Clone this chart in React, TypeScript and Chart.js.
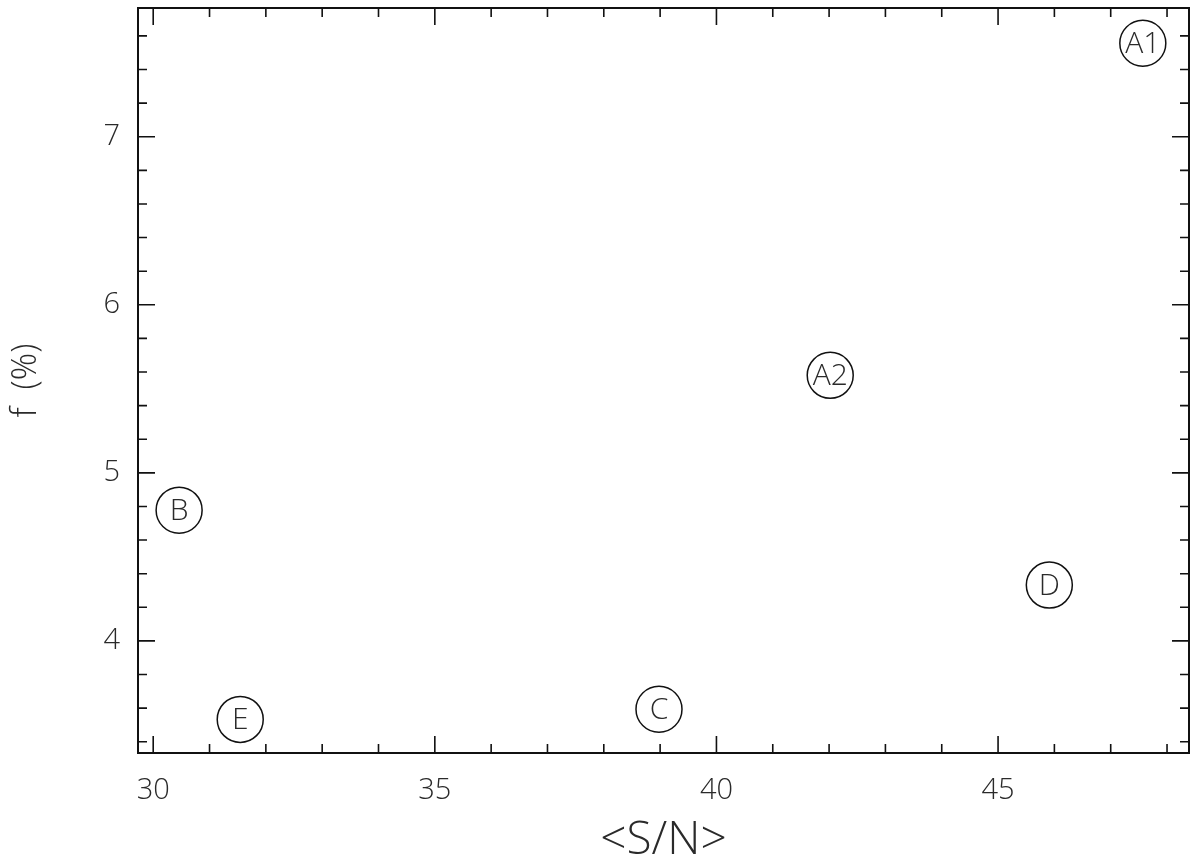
import React, { useEffect, useRef } from "react";
import { Chart, registerables } from "chart.js";

Chart.register(...registerables);

const sourceLabels = ["A1", "A2", "B", "C", "D", "E"];
const snValues = [47.57, 42.02, 30.46, 38.98, 45.91, 31.545];
const fValues = [7.556, 5.58, 4.778, 3.593, 4.332, 3.533];
const xMajorTicks = [30, 35, 40, 45];
const yMajorTicks = [4, 5, 6, 7];

const FONT = "'Open Sans', 'DejaVu Sans', sans-serif";
const TEXT = "#2a2a2a";

const framePlugin = {
  id: "frame",
  afterDatasetsDraw(chart: any) {
    const { ctx, chartArea: a, scales } = chart;
    const xs = scales.x;
    const ys = scales.y;
    ctx.save();
    const meta = chart.getDatasetMeta(0);
    ctx.fillStyle = TEXT;
    ctx.font = `300 30px ${FONT}`;
    ctx.textAlign = "center";
    ctx.textBaseline = "middle";
    meta.data.forEach((p: any, i: number) => {
      ctx.fillText(sourceLabels[i], p.x, p.y + 1);
    });
    ctx.strokeStyle = "#111";
    ctx.lineWidth = 2;
    ctx.strokeRect(a.left, a.top, a.right - a.left, a.bottom - a.top);
    ctx.lineWidth = 1.6;
    const major = 17;
    const minor = 9;
    for (let v = Math.ceil(xs.min); v <= xs.max; v += 1) {
      const px = xs.getPixelForValue(v);
      const len = v % 5 === 0 ? major : minor;
      ctx.beginPath();
      ctx.moveTo(px, a.bottom);
      ctx.lineTo(px, a.bottom - len);
      ctx.moveTo(px, a.top);
      ctx.lineTo(px, a.top + len);
      ctx.stroke();
    }
    for (let k = Math.ceil(ys.min * 5); k <= ys.max * 5; k += 1) {
      const v = k / 5;
      const py = ys.getPixelForValue(v);
      const len = k % 5 === 0 ? major : minor;
      ctx.beginPath();
      ctx.moveTo(a.left, py);
      ctx.lineTo(a.left + len, py);
      ctx.moveTo(a.right, py);
      ctx.lineTo(a.right - len, py);
      ctx.stroke();
    }
    ctx.restore();
  },
};

export default function App() {
  const ref = useRef<HTMLCanvasElement | null>(null);
  useEffect(() => {
    document.body.style.margin = "0";
    if (!ref.current) return;
    const chart = new Chart(ref.current, {
      type: "scatter",
      data: {
        datasets: [
          {
            data: snValues.map((x, i) => ({ x, y: fValues[i] })),
            pointStyle: "circle",
            pointRadius: 23,
            pointHoverRadius: 23,
            backgroundColor: "#ffffff",
            borderColor: "#111",
            borderWidth: 1.5,
          },
        ],
      },
      options: {
        animation: false,
        responsive: false,
        maintainAspectRatio: false,
        layout: { autoPadding: false, padding: { top: 8, right: 11, left: 0, bottom: 0 } },
        plugins: { legend: { display: false }, tooltip: { enabled: false }, title: { display: false } },
        scales: {
          x: {
            type: "linear",
            min: 29.73,
            max: 48.39,
            afterBuildTicks: (s: any) => {
              s.ticks = xMajorTicks.map((v) => ({ value: v }));
            },
            afterFit: (s: any) => {
              s.height = 115;
              s.paddingLeft = 0;
              s.paddingRight = 0;
            },
            grid: { display: false, drawTicks: false },
            border: { display: false },
            ticks: {
              includeBounds: false,
              padding: 20,
              color: TEXT,
              font: { family: FONT, size: 29, weight: "300" },
            },
            title: {
              display: true,
              text: "<S/N>",
              color: TEXT,
              font: { family: FONT, size: 46, weight: "300" },
              padding: { top: 2, bottom: 0 },
            },
          },
          y: {
            type: "linear",
            min: 3.333,
            max: 7.766,
            afterBuildTicks: (s: any) => {
              s.ticks = yMajorTicks.map((v) => ({ value: v }));
            },
            afterFit: (s: any) => {
              s.width = 138;
              s.paddingTop = 0;
              s.paddingBottom = 0;
            },
            grid: { display: false, drawTicks: false },
            border: { display: false },
            ticks: {
              includeBounds: false,
              padding: 18,
              color: TEXT,
              font: { family: FONT, size: 29, weight: "300" },
            },
            title: {
              display: true,
              text: "f  (%)",
              color: TEXT,
              font: { family: FONT, size: 34, weight: "300" },
              padding: { top: 6, bottom: 0 },
            },
          },
        },
      },
      plugins: [framePlugin],
    });
    return () => chart.destroy();
  }, []);
  return (
    <div style={{ width: 1200, height: 868, background: "#fff" }}>
      <canvas ref={ref} width={1200} height={868} style={{ display: "block" }} />
    </div>
  );
}
